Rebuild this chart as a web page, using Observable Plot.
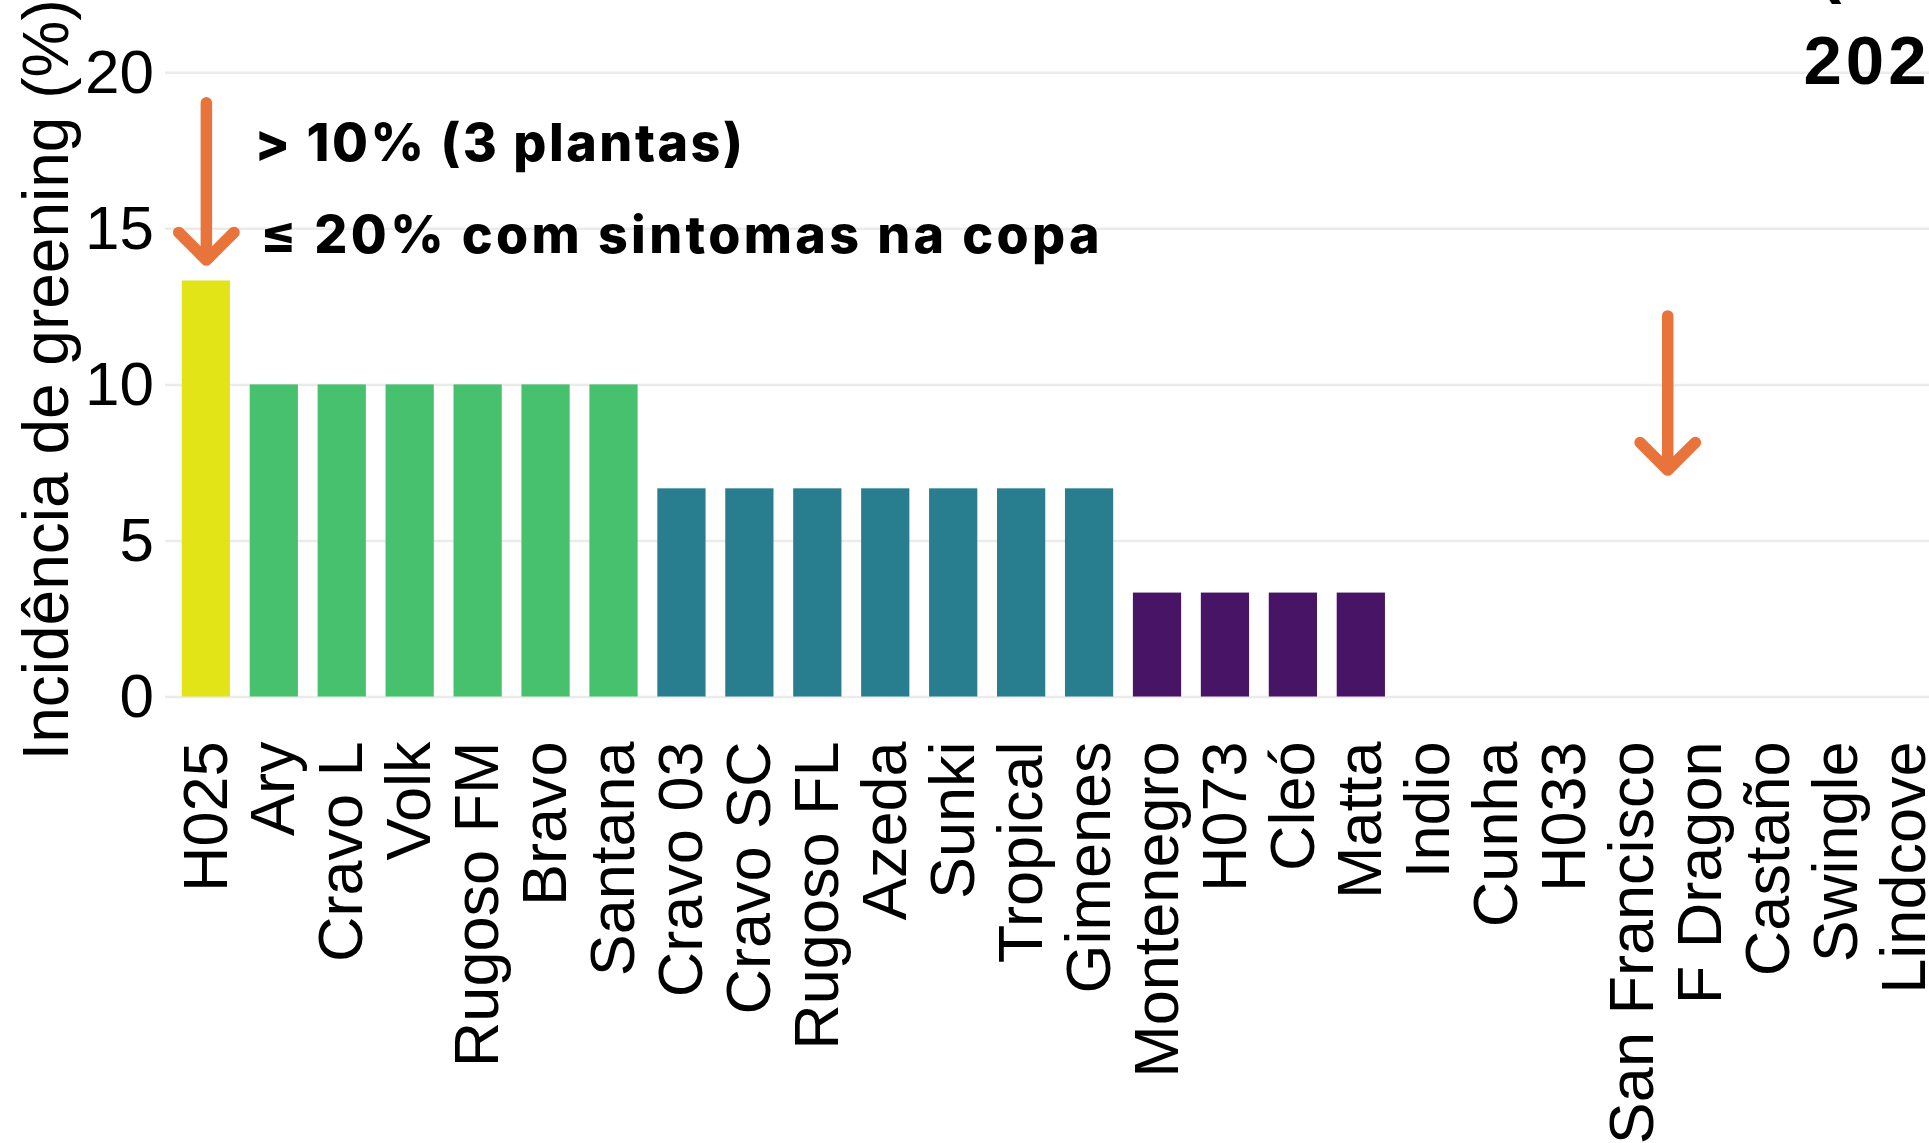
<!DOCTYPE html>
<html>
<head>
<meta charset="utf-8">
<script src="https://cdn.jsdelivr.net/npm/d3@7"></script>
<script src="https://cdn.jsdelivr.net/npm/@observablehq/plot@0.6"></script>
<style>
  html, body { margin: 0; padding: 0; background: #fff; overflow: hidden; width: 1929px; height: 1143px; }
  #chart svg { display: block; }
</style>
</head>
<body>
<div id="chart"></div>
<script>
// ---- data ----
const categories = ["H025", "Ary", "Cravo L", "Volk", "Rugoso FM", "Bravo", "Santana",
  "Cravo 03", "Cravo SC", "Rugoso FL", "Azeda", "Sunki", "Tropical", "Gimenes",
  "Montenegro", "H073", "Cleó", "Matta", "Indio", "Cunha", "H033", "San Francisco",
  "F Dragon", "Castaño", "Swingle", "Lindcove"];
const values = [13.33, 10, 10, 10, 10, 10, 10,
  6.67, 6.67, 6.67, 6.67, 6.67, 6.67, 6.67,
  3.33, 3.33, 3.33, 3.33, 0, 0, 0, 0, 0, 0, 0, 0];
const levels = [13.33, 10, 6.67, 3.33, 0];
const palette = ["#e2e418", "#48c16e", "#287d8e", "#481465", "#481465"];
const yTicks = [0, 5, 10, 15, 20];
const yTitle = "Incidência de greening (%)";
const noteLines = ["> 10% (3 plantas)", "≤ 20% com sintomas na copa"];
const cornerTitle = ["(", "2021"];
const arrowTargets = ["H025", "F Dragon"];
const arrowTop = [19.04, 12.21];
const arrowTip = [14.0, 7.27];

const data = categories.map((c, i) => ({cat: c, value: values[i]}));

const W = 1960, H = 1143;
const mL = 165.1, mR = W - 1945.1, mT = 72.3, mB = H - 696.5;
const orange = "#e8743b";

const arrowMark = (i, dx) => Plot.arrow([{x: arrowTargets[i], y1: arrowTop[i], y2: arrowTip[i]}], {
  x1: "x", x2: "x", y1: "y1", y2: "y2", dx,
  stroke: orange, strokeWidth: 11.5, headLength: 5.1, headAngle: 90,
  strokeLinecap: "round", strokeLinejoin: "round"
});

const noteStyle = {frameAnchor: "top-left", textAnchor: "start", lineAnchor: "bottom",
  fontSize: 52, fontWeight: 800, fontFamily: "Inter", fill: "#000"};

const chart = Plot.plot({
  width: W, height: H,
  marginLeft: mL, marginRight: mR, marginTop: mT, marginBottom: mB,
  style: {maxWidth: "none", fontFamily: "'Liberation Sans', Arial, sans-serif", background: "#fff", color: "#000"},
  x: {type: "band", domain: categories, paddingInner: 0.29, paddingOuter: 0.245, round: false, axis: null},
  y: {domain: [0, 20], axis: null},
  color: {domain: levels.map(String), range: palette},
  marks: [
    Plot.ruleY(yTicks, {stroke: "#ebebeb", strokeWidth: 2.5}),
    Plot.barY(data, {x: "cat", y: "value", fill: d => String(d.value)}),
    Plot.text(categories, {x: d => d, frameAnchor: "bottom", rotate: -90, textAnchor: "end",
      lineAnchor: "middle", dy: 44.5, fontSize: 63, fill: "#000"}),
    Plot.text(yTicks, {y: d => d, frameAnchor: "left", textAnchor: "end", lineAnchor: "middle",
      dx: -11.6, fontSize: 62, fill: "#000"}),
    Plot.text([yTitle], {frameAnchor: "left", rotate: -90, textAnchor: "middle", lineAnchor: "bottom",
      dx: 67 - mL, dy: -5, fontSize: 64, fill: "#000"}),
    Plot.text([noteLines[0]], {...noteStyle, dx: 89, dy: 160 - mT}),
    Plot.text([noteLines[1]], {...noteStyle, dx: 95, dy: 252 - mT}),
    Plot.text([cornerTitle[0]], {frameAnchor: "top-left", textAnchor: "start", lineAnchor: "bottom",
      dx: 1818 - mL, dy: -11 - mT, fontSize: 69, fontWeight: "bold", fill: "#000"}),
    Plot.text([cornerTitle[1]], {frameAnchor: "top-left", textAnchor: "start", lineAnchor: "bottom",
      dx: 1803 - mL, dy: 83 - mT, fontSize: 69, fontWeight: "bold", fill: "#000"}),
    arrowMark(0, 0),
    arrowMark(1, -33.3)
  ]
});
// spacing tweaks for the bold annotation lines and the corner title
chart.querySelectorAll("text").forEach(t => {
  if (t.textContent === noteLines[0]) t.setAttribute("letter-spacing", "2.5");
  if (t.textContent === noteLines[1]) t.setAttribute("letter-spacing", "3.35");
  if (t.textContent === cornerTitle[1]) t.setAttribute("letter-spacing", "4");
});
document.getElementById("chart").appendChild(chart);
</script>
</body>
</html>
